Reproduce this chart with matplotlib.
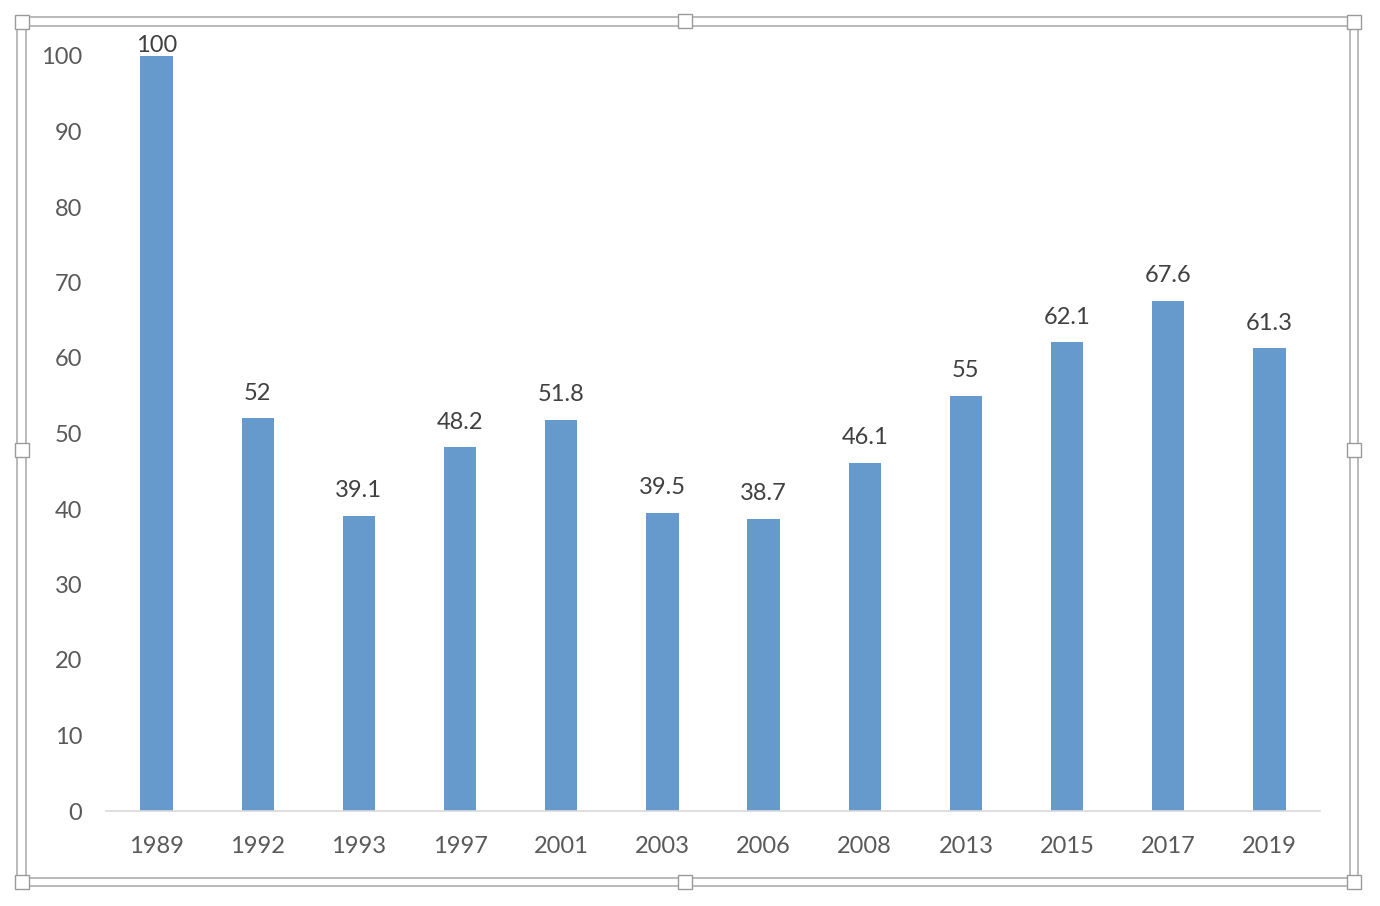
import matplotlib
matplotlib.use("Agg")
import matplotlib.pyplot as plt
from matplotlib.patches import Rectangle
from matplotlib.lines import Line2D

years = ["1989", "1992", "1993", "1997", "2001", "2003", "2006", "2008", "2013", "2015", "2017", "2019"]
values = [100, 52, 39.1, 48.2, 51.8, 39.5, 38.7, 46.1, 55, 62.1, 67.6, 61.3]
value_labels = ["100", "52", "39.1", "48.2", "51.8", "39.5", "38.7", "46.1", "55", "62.1", "67.6", "61.3"]
yticks = [0, 10, 20, 30, 40, 50, 60, 70, 80, 90, 100]

plt.rcParams['font.family'] = ['Lato', 'DejaVu Sans']

W, H = 1380, 906
fig = plt.figure(figsize=(W / 100, H / 100), dpi=100)
fig.patch.set_facecolor("white")

ax = fig.add_axes([106 / W, (H - 811) / H, (1320 - 106) / W, (811 - 56) / H])
x = list(range(len(years)))
bars = ax.bar(x, values, width=0.32, color="#6699CC", zorder=2)
anns = ax.bar_label(bars, labels=value_labels, padding=10.5, fontsize=17, color="#404040")
# the tallest label is kept inside the plot area (as in the original)
ymax = max(values)
for a, v in zip(anns, values):
    if v >= ymax:
        a.xyann = (0, 0)
    a.set_clip_on(False)

ax.set_xlim(-0.5, len(years) - 0.5)
ax.set_ylim(0, 100)
ax.set_xticks(x)
ax.set_xticklabels(years)
ax.set_yticks(yticks)
ax.tick_params(axis="both", length=0, labelsize=17, labelcolor="#595959")
ax.tick_params(axis="y", pad=17)
ax.tick_params(axis="x", pad=18)
for s in ["top", "right", "left"]:
    ax.spines[s].set_visible(False)
ax.spines["bottom"].set_color("#D9D9D9")
ax.spines["bottom"].set_linewidth(1.2)
ax.set_facecolor("none")

# selection frame (double line with handles)
def px(xp, yp):
    return xp / W, 1 - yp / H

frame_col = "#B4B4B4"
for (x0, y0, x1, y1) in [(17, 17, 1358, 886), (26, 26, 1350, 878)]:
    xs = [x0, x1, x1, x0, x0]
    ys = [y0, y0, y1, y1, y0]
    fig.add_artist(Line2D([a / W for a in xs], [1 - b / H for b in ys],
                          color=frame_col, lw=1.3, transform=fig.transFigure))

handles = [(22, 22), (685, 21), (1354, 22), (22, 450), (1354, 450),
           (22, 882), (685, 882), (1354, 882)]
hs = 14
for (cx, cy) in handles:
    fx, fy = px(cx - hs / 2, cy + hs / 2)
    fig.add_artist(Rectangle((fx, fy), hs / W, hs / H, transform=fig.transFigure,
                             facecolor="white", edgecolor="#9A9A9A", lw=1.0, zorder=5))

fig.savefig("out.png", dpi=100)
